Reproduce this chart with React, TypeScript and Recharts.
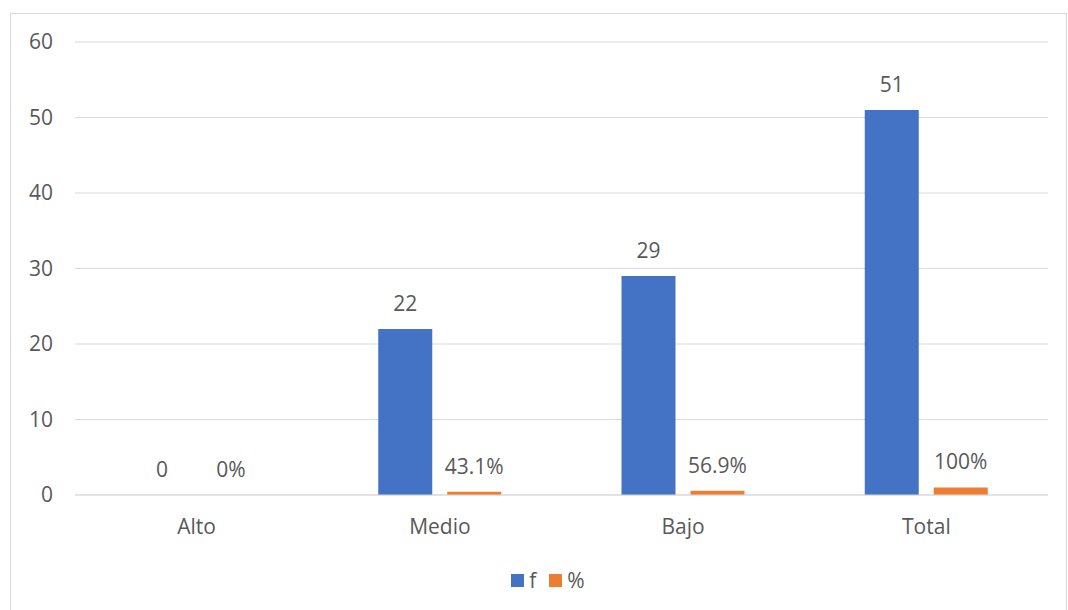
import React from "react";
import {
  BarChart,
  Bar,
  XAxis,
  YAxis,
  CartesianGrid,
  Legend,
  LabelList,
} from "recharts";

const categories = ["Alto", "Medio", "Bajo", "Total"];
const fValues = [0, 22, 29, 51];
const pctValues = [0, 0.431, 0.569, 1];
const pctLabels = ["0%", "43.1%", "56.9%", "100%"];
const yTicks = [0, 10, 20, 30, 40, 50, 60];

const FONT = "'Open Sans', 'Noto Sans', sans-serif";
const FS = 21;
const TEXT = "#595959";
const GRID = "#d9d9d9";
const BLUE = "#4472c4";
const ORANGE = "#ed7d31";

const chartData = categories.map((c, i) => ({
  name: c,
  f: fValues[i],
  pct: pctValues[i],
  pctLabel: pctLabels[i],
}));

function ChartLegend() {
  const items = [
    { name: "f", color: BLUE },
    { name: "%", color: ORANGE },
  ];
  return (
    <div
      style={{
        display: "flex",
        justifyContent: "center",
        gap: 13,
        paddingLeft: 28,
        fontFamily: FONT,
        fontSize: FS,
        color: TEXT,
        lineHeight: "24px",
      }}
    >
      {items.map((it) => (
        <span key={it.name} style={{ display: "flex", alignItems: "center", gap: 5 }}>
          <span style={{ display: "inline-block", width: 13, height: 13, background: it.color }} />
          <span>{it.name}</span>
        </span>
      ))}
    </div>
  );
}

export default function App() {
  return (
    <div
      style={{
        position: "absolute",
        left: 0,
        top: 0,
        width: 1068,
        height: 610,
        background: "#fff",
        overflow: "hidden",
      }}
    >
      <div
        style={{
          position: "absolute",
          left: 10,
          top: 13,
          width: 1055,
          height: 610,
          border: `1px solid ${GRID}`,
        }}
      />
      <BarChart
        width={1068}
        height={610}
        data={chartData}
        margin={{ top: 42, right: 20, left: 0, bottom: 65 }}
        barSize={54}
        barGap={15}
      >
        <CartesianGrid vertical={false} stroke={GRID} strokeWidth={1} />
        <XAxis
          dataKey="name"
          height={50}
          tickLine={false}
          tickSize={0}
          tickMargin={24}
          axisLine={{ stroke: GRID }}
          tick={{ fill: TEXT, fontSize: FS, fontFamily: FONT }}
        />
        <YAxis
          width={75}
          domain={[0, 60]}
          ticks={yTicks}
          interval={0}
          tickLine={false}
          tickSize={0}
          tickMargin={22}
          axisLine={false}
          tick={{ fill: TEXT, fontSize: FS, fontFamily: FONT }}
        />
        <Legend
          verticalAlign="middle"
          layout="horizontal"
          wrapperStyle={{ top: 568, left: 0, width: 1068 }}
          content={<ChartLegend />}
        />
        <Bar dataKey="f" name="f" fill={BLUE} minPointSize={0.01} isAnimationActive={false}>
          <LabelList
            dataKey="f"
            position="top"
            offset={18}
            style={{ fill: TEXT, fontSize: FS, fontFamily: FONT }}
          />
        </Bar>
        <Bar dataKey="pct" name="%" fill={ORANGE} minPointSize={0.01} isAnimationActive={false}>
          <LabelList
            dataKey="pctLabel"
            position="top"
            offset={18}
            style={{ fill: TEXT, fontSize: FS, fontFamily: FONT }}
          />
        </Bar>
      </BarChart>
    </div>
  );
}
